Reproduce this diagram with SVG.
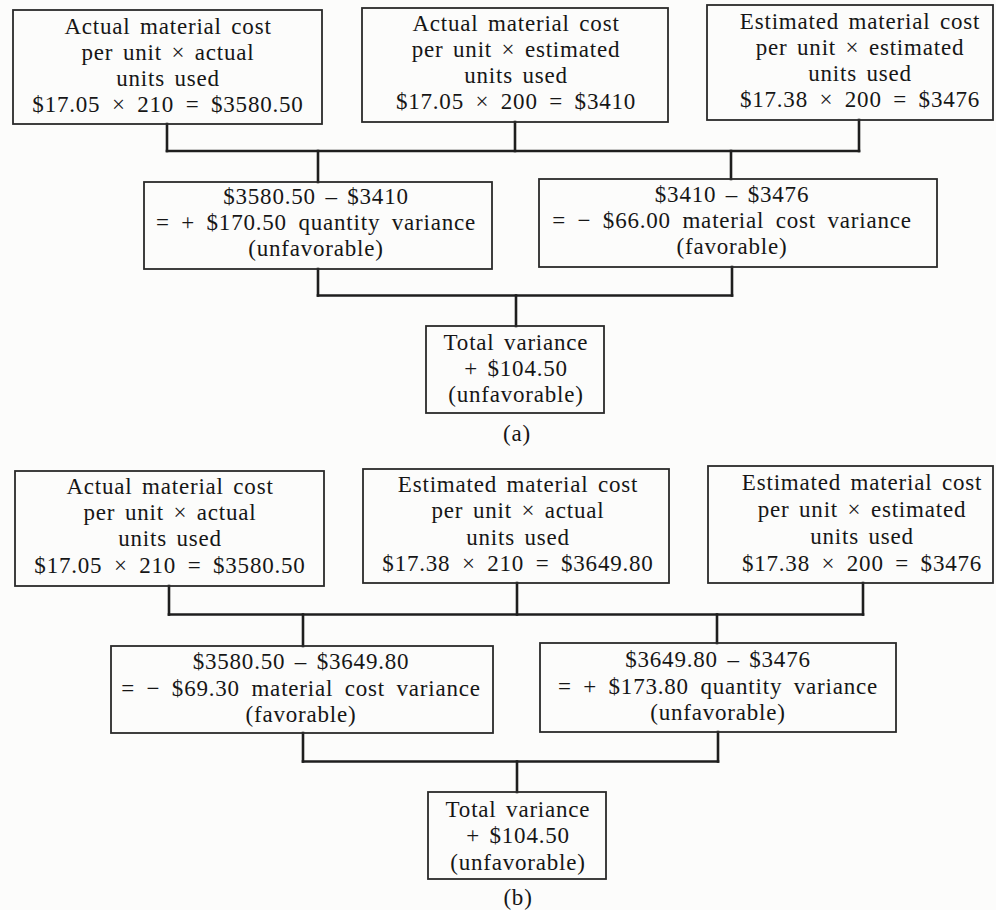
<svg xmlns="http://www.w3.org/2000/svg" width="996" height="910" viewBox="0 0 996 910">
<style>
.box{fill:none;stroke:#2a2a2a;stroke-width:1.8}
.conn line{stroke:#1e1e1e;stroke-width:2.6;stroke-linecap:square}
text{font-family:"Liberation Serif","Times New Roman",serif;font-size:23px;fill:#161616;text-anchor:middle;letter-spacing:0.8px;word-spacing:3px}
text.eq{word-spacing:5px}
</style>
<rect x="0" y="0" width="996" height="910" fill="#fcfcfb"/>
<g id="connectors" class="conn">
<line x1="167" y1="124" x2="167" y2="151"/>
<line x1="515" y1="122" x2="515" y2="151"/>
<line x1="859" y1="120" x2="859" y2="151"/>
<line x1="167" y1="151" x2="859" y2="151"/>
<line x1="318" y1="151" x2="318" y2="182"/>
<line x1="731" y1="151" x2="731" y2="179"/>
<line x1="318" y1="269" x2="318" y2="295.5"/>
<line x1="732" y1="267" x2="732" y2="295.5"/>
<line x1="318" y1="295.5" x2="732" y2="295.5"/>
<line x1="516" y1="295.5" x2="516" y2="326"/>
<line x1="169" y1="586" x2="169" y2="614.5"/>
<line x1="517" y1="583" x2="517" y2="614.5"/>
<line x1="863" y1="583" x2="863" y2="614.5"/>
<line x1="169" y1="614.5" x2="863" y2="614.5"/>
<line x1="303" y1="614.5" x2="303" y2="646"/>
<line x1="717" y1="614.5" x2="717" y2="643"/>
<line x1="303" y1="733" x2="303" y2="761.5"/>
<line x1="718" y1="732" x2="718" y2="761.5"/>
<line x1="303" y1="761.5" x2="718" y2="761.5"/>
<line x1="517" y1="761.5" x2="517" y2="792"/>
</g>
<g id="a1">
<rect class="box" x="13" y="10" width="309" height="114"/>
<text x="168" y="34">Actual material cost</text>
<text x="168" y="60">per unit × actual</text>
<text x="168" y="86">units used</text>
<text class="eq" x="168" y="112">$17.05 × 210 = $3580.50</text>
</g>
<g id="a2">
<rect class="box" x="362" y="8" width="306" height="114"/>
<text x="516" y="31">Actual material cost</text>
<text x="516" y="57">per unit × estimated</text>
<text x="516" y="83">units used</text>
<text class="eq" x="516" y="109">$17.05 × 200 = $3410</text>
</g>
<g id="a3">
<rect class="box" x="707" y="5" width="286" height="115"/>
<text x="860" y="29">Estimated material cost</text>
<text x="860" y="55">per unit × estimated</text>
<text x="860" y="81">units used</text>
<text class="eq" x="860" y="107">$17.38 × 200 = $3476</text>
</g>
<g id="b1">
<rect class="box" x="144" y="182" width="348" height="87"/>
<text x="316" y="204">$3580.50 – $3410</text>
<text class="eq" x="316" y="230">= + $170.50 quantity variance</text>
<text x="316" y="256">(unfavorable)</text>
</g>
<g id="b2">
<rect class="box" x="539" y="179" width="398" height="88"/>
<text x="732" y="202">$3410 – $3476</text>
<text class="eq" x="732" y="228">= − $66.00 material cost variance</text>
<text x="732" y="254">(favorable)</text>
</g>
<g id="c">
<rect class="box" x="426" y="326" width="178" height="87"/>
<text x="516" y="350">Total variance</text>
<text x="516" y="376">+ $104.50</text>
<text x="516" y="402">(unfavorable)</text>
</g>
<text id="label-a" x="517" y="441">(a)</text>
<g id="d1">
<rect class="box" x="15" y="471" width="309" height="115"/>
<text x="170" y="494">Actual material cost</text>
<text x="170" y="520">per unit × actual</text>
<text x="170" y="546">units used</text>
<text class="eq" x="170" y="573">$17.05 × 210 = $3580.50</text>
</g>
<g id="d2">
<rect class="box" x="363" y="469" width="306" height="114"/>
<text x="518" y="492">Estimated material cost</text>
<text x="518" y="518">per unit × actual</text>
<text x="518" y="545">units used</text>
<text class="eq" x="518" y="571">$17.38 × 210 = $3649.80</text>
</g>
<g id="d3">
<rect class="box" x="708" y="466" width="285" height="117"/>
<text x="862" y="490">Estimated material cost</text>
<text x="862" y="517">per unit × estimated</text>
<text x="862" y="544">units used</text>
<text class="eq" x="862" y="571">$17.38 × 200 = $3476</text>
</g>
<g id="e1">
<rect class="box" x="111" y="646" width="382" height="87"/>
<text x="301" y="669">$3580.50 – $3649.80</text>
<text class="eq" x="301" y="696">= − $69.30 material cost variance</text>
<text x="301" y="722">(favorable)</text>
</g>
<g id="e2">
<rect class="box" x="540" y="643" width="356" height="89"/>
<text x="718" y="667">$3649.80 – $3476</text>
<text class="eq" x="718" y="694">= + $173.80 quantity variance</text>
<text x="718" y="720">(unfavorable)</text>
</g>
<g id="f">
<rect class="box" x="428" y="792" width="178" height="87"/>
<text x="518" y="817">Total variance</text>
<text x="518" y="843">+ $104.50</text>
<text x="518" y="870">(unfavorable)</text>
</g>
<text id="label-b" x="518" y="905">(b)</text>
</svg>
